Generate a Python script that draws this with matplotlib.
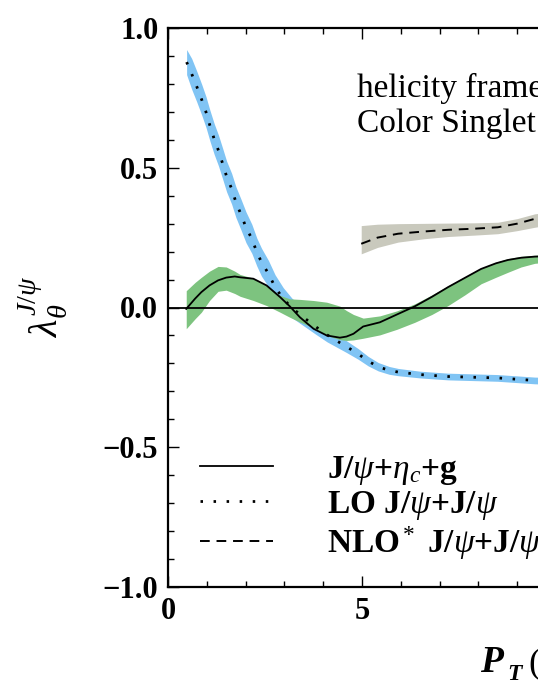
import matplotlib
matplotlib.use("Agg")
import matplotlib.pyplot as plt
from matplotlib.ticker import MultipleLocator

plt.rcParams['font.family'] = 'Liberation Serif'
plt.rcParams['mathtext.fontset'] = 'custom'
plt.rcParams['mathtext.rm'] = 'Liberation Serif'
plt.rcParams['mathtext.it'] = 'Liberation Serif:italic'
plt.rcParams['mathtext.bf'] = 'Liberation Serif:bold'

# ---- data ----
# J/psi + eta_c + g (solid line, green band)
pt_g = [0.47, 0.70, 0.86, 1.07, 1.29, 1.50, 1.72, 1.86, 2.20, 2.54, 2.89, 3.14, 3.40, 3.75, 4.09, 4.43,
        4.60, 4.78, 5.03, 5.46, 5.90, 6.36, 6.80, 7.22, 7.65, 8.07, 8.45, 8.76, 9.10, 9.45, 10.0]
lam_g = [-0.005, 0.032, 0.055, 0.079, 0.097, 0.107, 0.111, 0.108, 0.103, 0.079, 0.037, 0.004, -0.035, -0.076,
         -0.100, -0.108, -0.104, -0.094, -0.068, -0.053, -0.025, 0.004, 0.038, 0.073, 0.106, 0.138, 0.158,
         0.170, 0.178, 0.182, 0.185]
lam_g_hi = [0.060, 0.090, 0.108, 0.130, 0.147, 0.145, 0.130, 0.118, 0.105, 0.080, 0.043, 0.031, 0.029, 0.025,
            0.019, 0.005, -0.011, -0.025, -0.038, -0.030, -0.012, 0.013, 0.045, 0.078, 0.110, 0.140, 0.162,
            0.175, 0.183, 0.187, 0.190]
lam_g_lo = [-0.076, -0.040, -0.017, 0.025, 0.058, 0.062, 0.050, 0.040, 0.025, 0.007, -0.017, -0.035, -0.052,
            -0.072, -0.100, -0.115, -0.118, -0.116, -0.110, -0.098, -0.078, -0.053, -0.025, 0.007, 0.045,
            0.085, 0.108, 0.126, 0.145, 0.158, 0.165]

# LO J/psi + J/psi (dotted line, blue band)
pt_lo = [0.48, 0.61, 0.74, 0.87, 0.98, 1.08, 1.19, 1.30, 1.41, 1.51, 1.64, 1.75, 1.88, 2.01, 2.16, 2.29,
         2.41, 2.59, 2.76, 2.97, 3.19, 3.50, 3.80, 4.10, 4.43, 4.60, 4.90, 5.16, 5.42, 5.70, 5.93, 6.50,
         7.22, 8.50, 9.45, 10.0]
lam_lo = [0.878, 0.836, 0.791, 0.743, 0.699, 0.651, 0.603, 0.562, 0.514, 0.469, 0.425, 0.377, 0.333, 0.287,
          0.246, 0.198, 0.162, 0.121, 0.073, 0.031, -0.001, -0.036, -0.068, -0.098, -0.126, -0.140, -0.166,
          -0.192, -0.212, -0.225, -0.231, -0.240, -0.247, -0.252, -0.261, -0.263]
lam_lo_hi = [0.923, 0.891, 0.846, 0.798, 0.754, 0.706, 0.658, 0.617, 0.569, 0.524, 0.480, 0.432, 0.388, 0.342,
             0.298, 0.248, 0.212, 0.168, 0.117, 0.071, 0.034, -0.006, -0.041, -0.073, -0.104, -0.119, -0.147,
             -0.175, -0.197, -0.211, -0.218, -0.228, -0.235, -0.240, -0.249, -0.251]
lam_lo_lo = [0.833, 0.781, 0.736, 0.688, 0.644, 0.596, 0.548, 0.507, 0.459, 0.414, 0.370, 0.322, 0.278, 0.232,
             0.194, 0.148, 0.112, 0.074, 0.029, -0.009, -0.036, -0.066, -0.095, -0.123, -0.148, -0.161,
             -0.185, -0.209, -0.227, -0.239, -0.244, -0.252, -0.259, -0.264, -0.273, -0.275]

# NLO* J/psi + J/psi (dashed line, gray band)
pt_nlo = [4.98, 5.40, 5.93, 6.60, 7.22, 7.90, 8.50, 9.00, 9.45, 10.0]
lam_nlo = [0.228, 0.250, 0.264, 0.272, 0.278, 0.282, 0.287, 0.300, 0.317, 0.330]
lam_nlo_hi = [0.293, 0.298, 0.300, 0.301, 0.302, 0.303, 0.305, 0.318, 0.335, 0.345]
lam_nlo_lo = [0.192, 0.215, 0.234, 0.246, 0.254, 0.259, 0.264, 0.275, 0.287, 0.300]

labels = [r"J/$\psi$+$\eta_c$+g", r"LO J/$\psi$+J/$\psi$", r"NLO$^*$ J/$\psi$+J/$\psi$"]

BLUE = '#80c4f4'
GREEN = '#7dc37f'
GRAY = '#c9c9bd'

fig = plt.figure(figsize=(5.38, 6.80), dpi=100)
# axes run past the right edge of the picture (original is cropped)
ax = fig.add_axes([168 / 538, 93 / 680, 388 / 538, 559 / 680])

ax.fill_between(pt_lo, lam_lo_lo, lam_lo_hi, color=BLUE, lw=0, zorder=1)
ax.fill_between(pt_g, lam_g_lo, lam_g_hi, color=GREEN, lw=0, zorder=2)
ax.fill_between(pt_nlo, lam_nlo_lo, lam_nlo_hi, color=GRAY, lw=0, zorder=2)

ax.axhline(0, color='black', lw=1.3, zorder=3)

l1, = ax.plot(pt_g, lam_g, color='black', lw=1.3, zorder=4)
l2, = ax.plot(pt_lo, lam_lo, color='black', lw=2.0, dashes=(0.9, 3.8), zorder=4)
l3, = ax.plot(pt_nlo, lam_nlo, color='black', lw=1.4, dashes=(5.0, 3.5), zorder=4)

ax.set_xlim(0, 10)
ax.set_ylim(-1.0, 1.0)
ax.xaxis.set_major_locator(MultipleLocator(5))
ax.xaxis.set_minor_locator(MultipleLocator(1))
ax.yaxis.set_major_locator(MultipleLocator(0.5))
ax.yaxis.set_minor_locator(MultipleLocator(0.1))
ax.yaxis.set_major_formatter(plt.FuncFormatter(lambda v, p: f"{v:.1f}".replace('-', '\u2212')))
ax.tick_params(which='both', direction='in', top=True, right=True, width=1.0)
ax.tick_params(which='major', length=8, pad=7, labelsize=22)
ax.tick_params(which='minor', length=4.5)
for lab in ax.get_xticklabels() + ax.get_yticklabels():
    lab.set_fontweight('bold')
for s in ax.spines.values():
    s.set_linewidth(1.6)

fig.text(357 / 538, 1 - 97 / 680, "helicity frame", fontsize=24)
fig.text(357 / 538, 1 - 132 / 680, "Color Singlet", fontsize=24)

# y label
fig.text(43 / 538, 1 - 306 / 680, r"$\lambda_\theta^{J/\psi}$", rotation=90,
         ha='center', va='center', fontsize=29)

# x label (cropped in the original)
fig.text(480 / 538, 1 - 672 / 680, "P", fontsize=27, fontstyle='italic', fontweight='bold')
fig.text(507 / 538, 1 - 680 / 680, "T", fontsize=17, fontstyle='italic', fontweight='bold')
fig.text(528 / 538, 1 - 672 / 680, "(GeV)", fontsize=26)

leg = ax.legend([l1, l2, l3], labels, loc='upper left',
                bbox_to_anchor=(200 / 538, 1 - 454 / 680), bbox_transform=fig.transFigure,
                frameon=False, borderpad=0, borderaxespad=0,
                handlelength=2.2, handletextpad=1.6, labelspacing=0.06,
                prop={'family': 'Liberation Serif', 'weight': 'bold', 'size': 24})

fig.savefig("out.png", dpi=100)
